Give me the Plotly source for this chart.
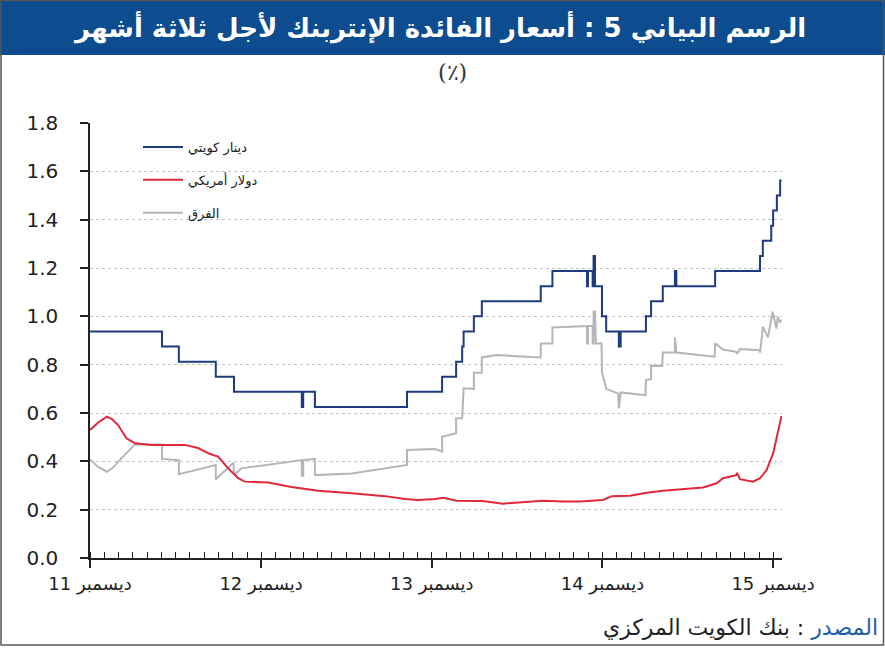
import plotly.graph_objects as go

# ---------------- data ----------------
kwd_dates = ["2011-12-01","2012-05-03","2012-06-08","2012-08-26","2012-10-04","2013-02-26","2013-03-01","2013-03-26",
             "2013-10-09","2013-12-23","2014-01-22","2014-02-04","2014-02-07","2014-03-01","2014-03-18","2014-07-22",
             "2014-08-16","2014-10-29","2014-10-31","2014-11-10","2014-11-12","2014-11-15","2014-11-30","2014-12-09",
             "2015-01-05","2015-01-09","2015-03-04","2015-03-15","2015-04-09","2015-05-05","2015-05-08","2015-07-30",
             "2015-11-03","2015-11-09","2015-11-27","2015-12-01","2015-12-09","2015-12-16","2015-12-19"]
kwd_vals = [0.9375,0.875,0.8125,0.75,0.6875,0.625,0.6875,0.625,
            0.6875,0.75,0.8125,0.875,0.9375,1.0,1.0625,1.125,
            1.1875,1.125,1.1875,1.125,1.25,1.125,1.0,0.9375,
            0.875,0.9375,1.0,1.0625,1.125,1.1875,1.125,1.1875,
            1.25,1.3125,1.375,1.4375,1.5,1.5625,1.5625]

usd_dates = ["2011-12-01","2011-12-18","2012-01-06","2012-01-17","2012-01-30","2012-02-17","2012-03-06","2012-04-11",
             "2012-06-21","2012-07-19","2012-08-14","2012-08-31","2012-09-21","2012-10-13","2012-10-27","2012-12-16",
             "2013-02-04","2013-04-02","2013-06-13","2013-08-23","2013-10-05","2013-11-01","2013-12-08","2013-12-25",
             "2014-01-23","2014-03-20","2014-05-02","2014-06-14","2014-07-27","2014-09-08","2014-10-14","2014-12-02",
             "2014-12-21","2015-01-29","2015-03-06","2015-04-09","2015-05-22","2015-07-04","2015-08-02","2015-08-16",
             "2015-09-13","2015-09-15","2015-09-21","2015-10-19","2015-11-03","2015-11-17","2015-12-01","2015-12-11",
             "2015-12-19"]
usd_vals = [0.53,0.56,0.585,0.575,0.55,0.495,0.475,0.468,
            0.468,0.455,0.43,0.42,0.372,0.33,0.316,0.312,
            0.294,0.278,0.268,0.256,0.244,0.24,0.244,0.249,
            0.237,0.236,0.225,0.232,0.237,0.234,0.234,0.24,
            0.256,0.258,0.27,0.278,0.284,0.292,0.309,0.33,
            0.343,0.352,0.326,0.316,0.33,0.364,0.433,0.516,
            0.588]

spread_dates = ["2011-12-01","2011-12-18","2012-01-06","2012-01-17","2012-01-30","2012-02-20","2012-03-06","2012-05-03",
                "2012-05-03","2012-06-08","2012-06-08","2012-08-26","2012-08-26","2012-10-03","2012-10-04","2012-10-20",
                "2013-02-26","2013-02-26","2013-03-01","2013-03-01","2013-03-26","2013-03-26","2013-06-13","2013-10-09",
                "2013-10-09","2013-12-08","2013-12-23","2013-12-23","2014-01-22","2014-01-22","2014-02-04","2014-02-07",
                "2014-03-01","2014-03-01","2014-03-18","2014-03-18","2014-04-18","2014-06-01","2014-07-22","2014-07-22",
                "2014-08-16","2014-08-16","2014-10-29","2014-10-29","2014-10-31","2014-10-31","2014-11-10","2014-11-10",
                "2014-11-12","2014-11-12","2014-11-15","2014-11-17","2014-11-29","2014-11-30","2014-12-09","2015-01-04",
                "2015-01-05","2015-01-09","2015-03-03","2015-03-04","2015-03-15","2015-03-15","2015-04-08","2015-04-09",
                "2015-05-05","2015-05-05","2015-05-08","2015-07-29","2015-07-30","2015-08-16","2015-09-13","2015-09-15",
                "2015-09-21","2015-11-02","2015-11-03","2015-11-07","2015-11-09","2015-11-20","2015-11-30","2015-12-08",
                "2015-12-11","2015-12-15","2015-12-19"]
spread_vals = [0.408,0.378,0.357,0.37,0.398,0.44,0.47,0.47,
               0.41,0.405,0.347,0.385,0.326,0.394,0.343,0.371,
               0.405,0.34,0.34,0.405,0.41,0.343,0.35,0.385,
               0.447,0.451,0.44,0.502,0.516,0.578,0.578,0.702,
               0.70,0.767,0.767,0.83,0.84,0.835,0.83,0.888,
               0.888,0.954,0.96,0.888,0.888,0.96,0.96,0.888,
               0.888,1.02,1.02,0.888,0.888,0.77,0.70,0.68,
               0.62,0.685,0.674,0.736,0.74,0.796,0.795,0.85,
               0.85,0.913,0.85,0.833,0.888,0.863,0.853,0.845,
               0.865,0.86,0.85,0.916,0.957,0.913,1.019,0.95,
               0.998,0.975,0.985]

series_names = ["دينار كويتي", "دولار أمريكي", "الفرق"]
x_tick_dates = ["2011-12-01","2012-12-01","2013-12-01","2014-12-01","2015-12-01"]
x_tick_labels = ["ديسمبر 11","ديسمبر 12","ديسمبر 13","ديسمبر 14","ديسمبر 15"]
y_ticks = [0, 0.2, 0.4, 0.6, 0.8, 1.0, 1.2, 1.4, 1.6, 1.8]
y_left_labels = ["0.0","0.2","0.4","0.6","0.8","1.0","1.2","1.4","1.6","1.8"]
y_right_labels = ["0","0.2","0.4","0.6","0.8","1","1.2","1.4","1.6","1.8"]

title_text = "الرسم البياني 5 : أسعار الفائدة الإنتربنك لأجل ثلاثة أشهر"
unit_text = "(٪)"
source_label = "المصدر"
source_text = "بنك الكويت المركزي"

RLE, PDF = "\u202b", "\u202c"

# ---------------- figure ----------------
W, H = 885, 650
L, R, T, B = 90, 103, 123, 92
pw, ph = W - L - R, H - T - B
def px(x): return (x - L) / pw
def py(y): return (H - B - y) / ph

BLUE = "#1f3b7e"
RED = "#e0283a"
GREY = "#b5b5ba"
INK = "#222222"
FONT = "DejaVu Sans, Arial, sans-serif"

fig = go.Figure()
fig.add_trace(go.Scatter(x=spread_dates, y=spread_vals, mode="lines", name=series_names[2],
                         line=dict(color=GREY, width=2), legendrank=3, legendgroup="c"))
fig.add_trace(go.Scatter(x=usd_dates, y=usd_vals, mode="lines", name=series_names[1],
                         line=dict(color=RED, width=2), legendrank=2, legendgroup="b"))
fig.add_trace(go.Scatter(x=kwd_dates, y=kwd_vals, mode="lines", name=series_names[0],
                         line=dict(color=BLUE, width=2, shape="hv"), legendrank=1, legendgroup="a"))

xrange = ["2011-12-01", "2015-12-20"]

fig.update_layout(
    width=W, height=H,
    margin=dict(l=L, r=R, t=T, b=B, pad=0, autoexpand=False),
    paper_bgcolor="white", plot_bgcolor="white",
    font=dict(family=FONT, color=INK),
    showlegend=True,
    legend=dict(x=px(138), y=py(132), xanchor="left", yanchor="top",
                bgcolor="rgba(0,0,0,0)", borderwidth=0,
                font=dict(size=13, color=INK, family=FONT),
                traceorder="grouped", tracegroupgap=13, itemwidth=40),
    xaxis=dict(type="date", range=xrange, tickvals=x_tick_dates,
               ticktext=[RLE + t + PDF for t in x_tick_labels],
               ticks="outside", ticklen=8, tickwidth=1.5, tickcolor=INK,
               showline=True, linecolor=INK, linewidth=1.5, showgrid=False, zeroline=False,
               automargin=False, ticklabelstandoff=1,
               tickfont=dict(size=18, color=INK, family=FONT),
               minor=dict(dtick="M1", tick0="2011-12-01", ticks="inside", ticklen=6,
                          tickwidth=1, tickcolor=INK, showgrid=False)),
    xaxis2=dict(type="date", range=xrange, overlaying="x", anchor="y", side="bottom",
                tickvals=x_tick_dates, ticks="inside", ticklen=8, tickwidth=1.5, tickcolor=INK,
                showticklabels=False, showgrid=False, showline=False, zeroline=False, automargin=False),
    yaxis=dict(range=[0, 1.8], tickvals=y_ticks, ticktext=y_left_labels,
               ticks="outside", ticklen=8, tickwidth=1.5, tickcolor=INK,
               showline=True, linecolor=INK, linewidth=1.5,
               showgrid=True, gridcolor="#c4c4c4", griddash="dot", gridwidth=1,
               zeroline=False, automargin=False, ticklabelstandoff=18,
               tickfont=dict(size=20, color=INK, family=FONT)),
    yaxis2=dict(range=[0, 1.8], overlaying="y", side="right", anchor="x",
                tickvals=y_ticks, ticktext=y_right_labels,
                ticks="outside", ticklen=8, tickwidth=1.5, tickcolor=INK,
                showline=True, linecolor=INK, linewidth=1.5, showgrid=False, zeroline=False,
                automargin=False, ticklabelstandoff=24,
                tickfont=dict(size=19, color=INK, family=FONT)),
)

# decorative frame and title bar
fig.add_shape(type="rect", xref="paper", yref="paper",
              x0=px(0), x1=px(W), y0=py(55), y1=py(0),
              fillcolor="#0d4c8e", line=dict(width=0), layer="below")
fig.add_shape(type="rect", xref="paper", yref="paper",
              x0=px(1), x1=px(W - 1.5), y0=py(H - 5), y1=py(0.5),
              fillcolor="rgba(0,0,0,0)", line=dict(color="#555555", width=1.5))

fig.add_annotation(text=RLE + title_text + PDF, xref="paper", yref="paper",
                   x=px(808), y=py(28), xanchor="right", yanchor="middle", showarrow=False,
                   font=dict(size=26, color="white", family=FONT, weight="bold"))
fig.add_annotation(text=unit_text, xref="paper", yref="paper",
                   x=px(453), y=py(72), xanchor="center", yanchor="middle", showarrow=False,
                   font=dict(size=22, color="#333333", family="DejaVu Serif, Liberation Serif, serif"))
fig.add_annotation(text=RLE + "<span style='color:#1f5fa8'>" + source_label + "</span> : " + source_text + PDF,
                   xref="paper", yref="paper", x=px(880), y=py(627),
                   xanchor="right", yanchor="middle", showarrow=False,
                   font=dict(size=22, color=INK, family=FONT))

fig.write_html("out.html", config={"displayModeBar": False},
               post_script="document.body.style.margin='0';document.body.style.padding='0';")
